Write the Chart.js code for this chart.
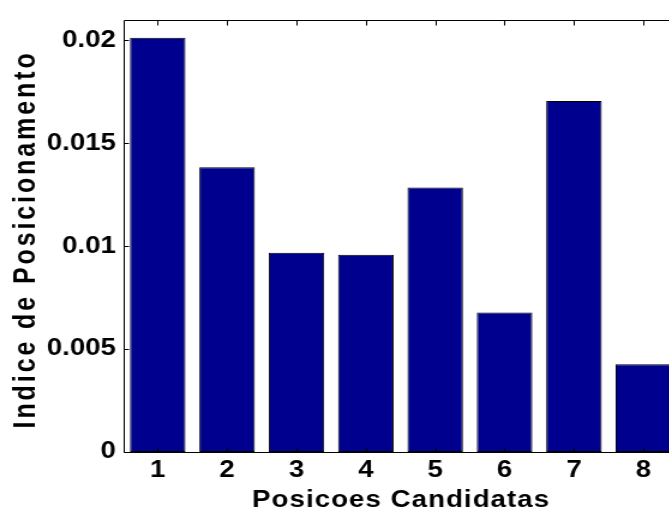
<!DOCTYPE html>
<html>
<head>
<meta charset="utf-8">
<script src="https://cdn.jsdelivr.net/npm/chart.js@4/dist/chart.umd.min.js"></script>
<style>
  html, body { margin: 0; padding: 0; background: #fff; }
  #wrap { width: 669px; height: 510px; overflow: hidden; position: relative; }
  #stretch { width: 580px; height: 510px; transform: scaleX(1.2); transform-origin: 0 0; }
  canvas { display: block; }
</style>
</head>
<body>
<div id="wrap"><div id="stretch"><canvas id="c" width="580" height="510"></canvas></div></div>
<script>
// Candidate positions and their positioning index
const categories = ['1', '2', '3', '4', '5', '6', '7', '8'];
const indexValues = [0.02013, 0.01383, 0.00968, 0.00958, 0.01285, 0.00678, 0.01705, 0.00426];
const yTickValues = [0, 0.005, 0.01, 0.015, 0.02];
const yTickLabels = ['0', '0.005', '0.01', '0.015', '0.02'];
const xTitle = 'Posicoes Candidatas';
const yTitle = 'Indice de Posicionamento';

const FONT = '"Liberation Sans", Arial, Helvetica, sans-serif';

// Axes box with inward tick marks, plus the two axis titles
const axesBox = {
  id: 'axesBox',
  afterDatasetsDraw(chart) {
    const { ctx, chartArea: { left, right, top, bottom }, scales: { x, y } } = chart;
    ctx.save();
    ctx.strokeStyle = '#000';
    ctx.lineWidth = 1;
    const L = Math.round(left) + 0.5, R = Math.round(right) + 0.5;
    const T = Math.round(top) + 0.5, B = Math.round(bottom) + 0.5;
    ctx.beginPath();
    ctx.moveTo(L, T); ctx.lineTo(R, T);
    ctx.moveTo(L, B); ctx.lineTo(R, B);
    ctx.moveTo(L, T); ctx.lineTo(L, B);
    ctx.moveTo(R, T); ctx.lineTo(R, B);
    const lenY = 4, lenX = 5;
    y.ticks.forEach(t => {
      const py = Math.round(y.getPixelForValue(t.value)) + 0.5;
      ctx.moveTo(L, py); ctx.lineTo(L + lenY, py);
      ctx.moveTo(R, py); ctx.lineTo(R - lenY, py);
    });
    categories.forEach((c, i) => {
      const px = Math.round(x.getPixelForValue(i)) + 0.5;
      ctx.moveTo(px, B); ctx.lineTo(px, B - lenX);
      ctx.moveTo(px, T); ctx.lineTo(px, T + lenX);
    });
    ctx.stroke();
    ctx.restore();
  },
  afterDraw(chart) {
    const { ctx, chartArea: { left, right, top, bottom } } = chart;
    ctx.save();
    ctx.fillStyle = '#000';
    ctx.textAlign = 'center';
    ctx.textBaseline = 'alphabetic';
    // x axis title
    ctx.font = 'bold 23px ' + FONT;
    ctx.letterSpacing = '0.9px';
    ctx.fillText(xTitle, (left + right) / 2 + 0.5, 507);
    // y axis title
    ctx.font = 'bold 25px ' + FONT;
    ctx.letterSpacing = '2.9px';
    ctx.translate(29, (top + bottom) / 2 + 5);
    ctx.rotate(-Math.PI / 2);
    ctx.fillText(yTitle, 1.5, 0);
    ctx.restore();
  }
};

new Chart(document.getElementById('c'), {
  type: 'bar',
  data: {
    labels: categories,
    datasets: [{
      data: indexValues,
      backgroundColor: '#00008F',
      borderColor: '#000000',
      borderWidth: 1,
      borderSkipped: false,
      barPercentage: 0.8,
      categoryPercentage: 1.0
    }]
  },
  options: {
    responsive: false,
    animation: false,
    devicePixelRatio: 1,
    layout: { padding: { top: 12, right: 15, left: 0, bottom: 0 } },
    plugins: { legend: { display: false }, tooltip: { enabled: false }, title: { display: false } },
    scales: {
      x: {
        type: 'category',
        offset: true,
        grid: { display: false, drawTicks: false },
        border: { display: false },
        ticks: {
          color: '#000',
          font: { family: FONT, size: 23, weight: 'bold' },
          padding: 5,
          maxRotation: 0,
          autoSkip: false
        },
        afterFit(scale) { scale.height = 58; }
      },
      y: {
        min: 0,
        max: 0.021,
        grid: { display: false, drawTicks: false },
        border: { display: false },
        afterBuildTicks(scale) {
          scale.ticks = yTickValues.map(v => ({ value: v }));
        },
        ticks: {
          color: '#000',
          font: { family: FONT, size: 23, weight: 'bold' },
          padding: 6,
          callback: (value, i) => yTickLabels[i]
        },
        afterFit(scale) { scale.width = 102.5; }
      }
    }
  },
  plugins: [axesBox]
});
</script>
</body>
</html>
